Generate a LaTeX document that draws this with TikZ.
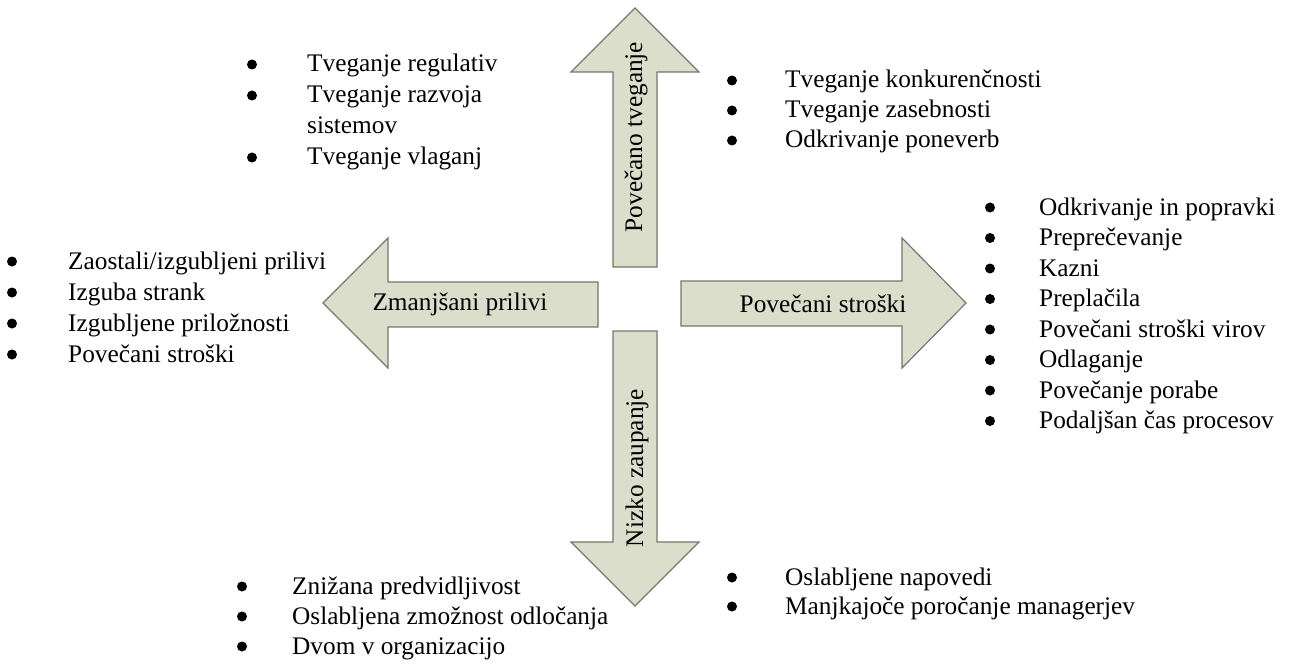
\documentclass[tikz,border=0pt]{standalone}
\usepackage{fontspec}
\setmainfont{Liberation Serif}
\definecolor{arrowfill}{RGB}{220,222,204}
\definecolor{arrowline}{RGB}{118,119,110}
\begin{document}
\begin{tikzpicture}[x=1pt,y=-1pt,
  bigarrow/.style={fill=arrowfill,draw=arrowline,line width=1.2pt,line join=miter},
  lbl/.style={font=\fontsize{25.3}{30}\selectfont,inner sep=0pt},
  itemtext/.style={lbl,anchor=base west},
  itembullet/.style={circle,fill=black,inner sep=0pt,minimum size=10pt}]
\useasboundingbox (0,0) rectangle (1295,671);

% four block arrows
\draw[bigarrow] (635,8) -- (699,72) -- (657,72) -- (657,267) -- (613,267) -- (613,72) -- (571,72) -- cycle;
\draw[bigarrow] (613,331) -- (657,331) -- (657,542) -- (699,542) -- (635,606) -- (571,542) -- (613,542) -- cycle;
\draw[bigarrow] (323,303) -- (388,238) -- (388,282) -- (598,282) -- (598,327) -- (388,327) -- (388,368) -- cycle;
\draw[bigarrow] (681,281) -- (902,281) -- (902,238) -- (966,303) -- (902,368) -- (902,326) -- (681,326) -- cycle;

% arrow labels
\node[lbl,rotate=90] (up) at (636,137) {Povečano tveganje};
\node[lbl,rotate=90] (down) at (637,468) {Nizko zaupanje};
\node[lbl] (left) at (460,304) {Zmanjšani prilivi};
\node[lbl] (right) at (823,304) {Povečani stroški};

% upper left list
\foreach \y/\t [count=\i] in {72/{Tveganje regulativ},103/{Tveganje razvoja},165/{Tveganje vlaganj}}{
  \node[itembullet] (tlb\i) at (252,\y-7.5) {};
  \node[itemtext] (tl\i) at (307,\y) {\t};
}
\node[itemtext] (tlw) at (307,134) {sistemov};

% upper right list
\foreach \y/\t [count=\i] in {88/{Tveganje konkurenčnosti},118/{Tveganje zasebnosti},148/{Odkrivanje poneverb}}{
  \node[itembullet] (trb\i) at (732,\y-7.5) {};
  \node[itemtext] (tr\i) at (785,\y) {\t};
}

% right list
\foreach \y/\t [count=\i] in {215/{Odkrivanje in popravki},245.5/{Preprečevanje},276/{Kazni},306.5/{Preplačila},337/{Povečani stroški virov},367.5/{Odlaganje},398/{Povečanje porabe},428.5/{Podaljšan čas procesov}}{
  \node[itembullet] (rb\i) at (990,\y-7.5) {};
  \node[itemtext] (r\i) at (1039,\y) {\t};
}

% left list
\foreach \y/\t [count=\i] in {269/{Zaostali/izgubljeni prilivi},300/{Izguba strank},331/{Izgubljene priložnosti},362/{Povečani stroški}}{
  \node[itembullet] (lb\i) at (12,\y-7.5) {};
  \node[itemtext] (l\i) at (68,\y) {\t};
}

% lower left list
\foreach \y/\t [count=\i] in {594/{Znižana predvidljivost},624/{Oslabljena zmožnost odločanja},654/{Dvom v organizacijo}}{
  \node[itembullet] (blb\i) at (242,\y-7.5) {};
  \node[itemtext] (bl\i) at (292,\y) {\t};
}

% lower right list
\foreach \y/\t [count=\i] in {585/{Oslabljene napovedi},614/{Manjkajoče poročanje managerjev}}{
  \node[itembullet] (brb\i) at (732,\y-7.5) {};
  \node[itemtext] (br\i) at (785,\y) {\t};
}
\end{tikzpicture}
\end{document}
